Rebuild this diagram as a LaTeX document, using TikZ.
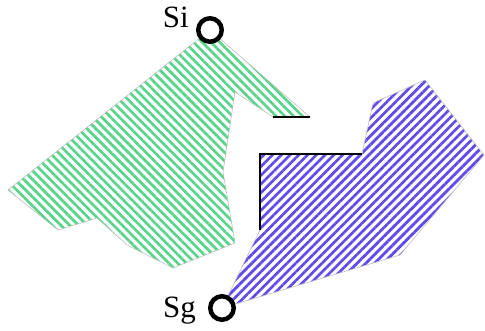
\documentclass[tikz,border=0pt]{standalone}
\usepackage{fontspec}
\setmainfont{Liberation Serif}
\usetikzlibrary{patterns.meta}
\definecolor{hgreen}{RGB}{90,212,140}
\definecolor{hblue}{RGB}{95,75,235}
\begin{document}
\begin{tikzpicture}[x=1pt,y=-1pt]
\tikzset{
 greenhatch/.style={pattern={Lines[angle=-45,distance=6.2pt,line width=2.7pt]},pattern color=hgreen},
 bluehatch/.style={pattern={Lines[angle=45,distance=6.2pt,line width=2.7pt]},pattern color=hblue},
 rim/.style={draw=black!25,line width=0.6pt},
 edgeline/.style={draw=black,line width=1.2pt},
 port/.style={circle,draw=black,line width=4.5pt,fill=white,minimum size=23.5pt,inner sep=0pt},
 lbl/.style={font=\fontsize{31}{31}\selectfont,inner sep=0pt}
}
\useasboundingbox (0,0) rectangle (485,331);
% green region
\path[greenhatch,rim] (210,30) -- (310,117) -- (273,117) -- (235,92) -- (223,172) -- (235,243) -- (173,268) -- (127,245) -- (97,218) -- (58,230) -- (8,190) -- cycle;
\draw[edgeline] (273,117) -- (310,117);
% blue region
\path[bluehatch,rim] (222,308) -- (260,230) -- (260,154) -- (362,154) -- (373,103) -- (425,80) -- (484,155) -- (400,255) -- cycle;
\draw[edgeline] (260,230) -- (260,154) -- (362,154);
% ports
\node[port] (si) at (210,30) {};
\node[port] (sg) at (222,308) {};
\node[lbl,anchor=base east] (silabel) at (189,28) {Si};
\node[lbl,anchor=base east] (sglabel) at (196,318) {Sg};
\end{tikzpicture}
\end{document}
